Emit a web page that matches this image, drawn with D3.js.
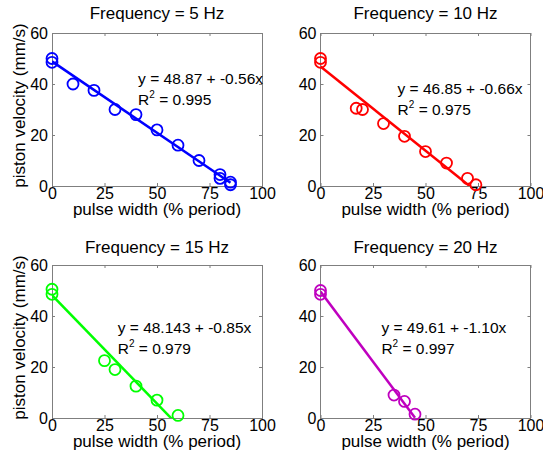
<!DOCTYPE html>
<html>
<head>
<meta charset="utf-8">
<script src="https://cdn.jsdelivr.net/npm/d3@7"></script>
<style>
  body { margin: 0; background: #fff; }
  text { font-family: "Liberation Sans", Arial, sans-serif; fill: #000; }
</style>
</head>
<body>
<script>
var W = 543, H = 462;

/* data */
var freqs = [5, 10, 15, 20];
var colors = ["#0000ff", "#ff0000", "#00ff00", "#bf00bf"];
var widths5  = [0, 0, 10, 20, 30, 40, 50, 60, 70, 80, 80, 85, 85];
var vel5     = [50, 48.5, 40, 37.5, 30, 28, 22, 16, 10, 4.5, 3, 1.5, 0.5];
var widths10 = [0, 0, 17, 20, 30, 40, 50, 60, 70, 74];
var vel10    = [50, 48.5, 30.5, 30, 24.5, 19.5, 13.5, 9, 3, 0.5];
var widths15 = [0, 0, 25, 30, 40, 50, 60];
var vel15    = [50.5, 48.5, 22.5, 19, 12.5, 7, 1];
var widths20 = [0, 0, 35, 40, 45];
var vel20    = [50, 48.5, 9, 6.5, 1.5];
var intercepts = ["48.87", "46.85", "48.143", "49.61"];
var slopes = ["-0.56", "-0.66", "-0.85", "-1.10"];
var r2 = ["0.995", "0.975", "0.979", "0.997"];
var fitEnd = [85, 74, 60, 45];
var xTicks = [0, 25, 50, 75, 100];
var yTicks = [0, 20, 40, 60];

var widths = [widths5, widths10, widths15, widths20];
var vels = [vel5, vel10, vel15, vel20];

/* annotation anchor in data units (x, y of first line) */
var notePos = [[41, 40], [36.7, 36], [31.3, 33.5], [29, 33.5]];

/* layout */
var colX = [52, 320.5];
var rowY = [33, 265];
var pw = 210, ph = 153;

const svg = d3.select("body").append("svg")
  .attr("width", W)
  .attr("height", H);

freqs.forEach(function(f, i) {
  var col = i % 2, row = Math.floor(i / 2);
  var g = svg.append("g")
    .attr("transform", "translate(" + colX[col] + "," + rowY[row] + ")");

  var x = d3.scaleLinear().domain([0, 100]).range([0, pw]);
  var y = d3.scaleLinear().domain([0, 60]).range([ph, 0]);

  /* 坐标框 */
  g.append("rect")
    .attr("width", pw)
    .attr("height", ph)
    .attr("fill", "#fff")
    .attr("stroke", "#7f7f7f")
    .attr("stroke-width", 1)
    .attr("shape-rendering", "crispEdges");

  // inward ticks on all four sides
  var tl = 3;
  var xa = d3.axisBottom(x).tickValues(xTicks).tickSize(-tl).tickPadding(2);
  g.append("g").attr("transform", "translate(0," + ph + ")").call(xa);
  var xa2 = d3.axisTop(x).tickValues(xTicks).tickSize(-tl).tickFormat("");
  g.append("g").call(xa2);
  var ya = d3.axisLeft(y).tickValues(yTicks).tickSize(-tl).tickPadding(4);
  g.append("g").call(ya);
  var ya2 = d3.axisRight(y).tickValues(yTicks).tickSize(-tl).tickFormat("");
  g.append("g").attr("transform", "translate(" + pw + ",0)").call(ya2);

  g.selectAll(".domain").remove();
  g.selectAll(".tick line").attr("stroke", "#7f7f7f");
  g.selectAll(".tick text")
    .style("font-size", "16px")
    .style("font-family", "'Liberation Sans', Arial, sans-serif")
    .attr("fill", "#000");

  /* 拟合直线 */
  var clipId = "clip" + i;
  g.append("clipPath").attr("id", clipId)
    .append("rect").attr("width", pw).attr("height", ph);

  var b = +intercepts[i], m = +slopes[i];
  g.append("line")
    .attr("clip-path", "url(#" + clipId + ")")
    .attr("x1", x(0))
    .attr("y1", y(b))
    .attr("x2", x(fitEnd[i]))
    .attr("y2", y(b + m * fitEnd[i]))
    .attr("stroke", colors[i])
    .attr("stroke-width", 2.5);

  /* 数据点 */
  g.selectAll("circle")
    .data(widths[i].map(function(w, k) { return [w, vels[i][k]]; }))
    .enter().append("circle")
    .attr("cx", d => x(d[0]))
    .attr("cy", d => y(d[1]))
    .attr("r", 5.5)
    .attr("fill", "none")
    .attr("stroke", colors[i])
    .attr("stroke-width", 1.8);

  /* 方程与R² */
  var nx = x(notePos[i][0]), ny = y(notePos[i][1]);
  g.append("text")
    .attr("x", nx)
    .attr("y", ny)
    .style("font-size", "15.5px")
    .text("y = " + intercepts[i] + " + " + slopes[i] + "x");
  var rt = g.append("text")
    .attr("x", nx)
    .attr("y", ny + 21)
    .style("font-size", "15.5px");
  rt.append("tspan").text("R");
  rt.append("tspan").attr("dy", -7).style("font-size", "10px").text("2");
  rt.append("tspan").attr("dy", 7).text(" = " + r2[i]);

  /* 标题 */
  g.append("text")
    .attr("x", pw / 2)
    .attr("y", row == 0 ? -14 : -12)
    .attr("text-anchor", "middle")
    .style("font-size", "17px")
    .text("Frequency = " + f + " Hz");

  g.append("text")
    .attr("x", pw / 2)
    .attr("y", ph + 29)
    .attr("text-anchor", "middle")
    .style("font-size", "17px")
    .text("pulse width (% period)");

  if (col == 0) {
    g.append("text")
      .attr("transform", "translate(" + (-27) + "," + (ph / 2 - 4) + ") rotate(-90)")
      .attr("text-anchor", "middle")
      .style("font-size", "17px")
      .text("piston velocity (mm/s)");
  }
});
</script>
</body>
</html>
